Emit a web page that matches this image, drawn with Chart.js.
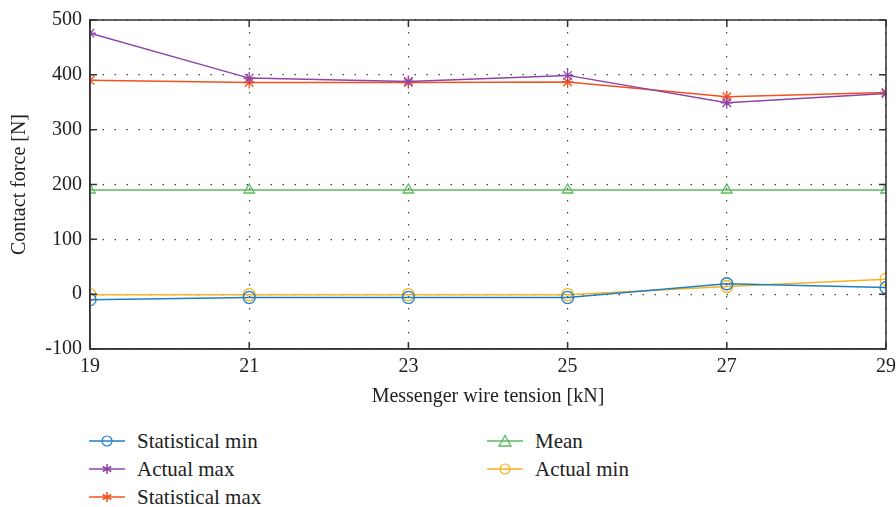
<!DOCTYPE html>
<html>
<head>
<meta charset="utf-8">
<script src="https://cdn.jsdelivr.net/npm/chart.js@4"></script>
<style>
  body { margin: 0; background: #fff; }
  #wrap { position: relative; width: 896px; height: 507px; }
  #c { position: absolute; left: 0; top: 0; }
  .leg { position: absolute; font-family: 'Liberation Serif', 'DejaVu Serif', serif; font-size: 21px; color: #222; display: flex; align-items: center; white-space: nowrap; }
  .leg svg { margin-right: 12px; }
</style>
</head>
<body>
<div id="wrap">
  <canvas id="c" width="896" height="420"></canvas>
  <div id="legend"></div>
</div>
<script>
const tensiones = [19, 21, 23, 25, 27, 29];
const minEstadistico = [-10, -6, -6, -6, 19, 12];
const maxReal = [476, 394, 388, 399, 349, 366];
const maxEstadistico = [390, 386, 386, 387, 360, 368];
const media = [190, 190, 190, 190, 190, 190];
const minReal = [-1, -1, -1, -1, 14, 27];

const series = [
    { label: 'Statistical min', data: minEstadistico, color: '#1f7fc4', marker: 'circle' },
    { label: 'Actual max', data: maxReal, color: '#8e44a8', marker: 'star' },
    { label: 'Statistical max', data: maxEstadistico, color: '#f4511e', marker: 'star' },
    { label: 'Mean', data: media, color: '#5cb85c', marker: 'triangle' },
    { label: 'Actual min', data: minReal, color: '#f9b122', marker: 'circle' }
];

const fuente = { family: "'Liberation Serif', 'DejaVu Serif', serif", size: 20 };

// marco y marcas de escala hacia dentro
const marco = {
    id: 'marco',
    afterDraw(chart) {
        const { ctx, chartArea: a, scales } = chart;
        ctx.save();
        ctx.strokeStyle = '#333';
        ctx.lineWidth = 1.5;
        ctx.strokeRect(a.left, a.top, a.right - a.left, a.bottom - a.top);
        ctx.beginPath();
        scales.x.ticks.forEach(t => {
            const x = scales.x.getPixelForValue(t.value);
            ctx.moveTo(x, a.bottom); ctx.lineTo(x, a.bottom - 7);
            ctx.moveTo(x, a.top); ctx.lineTo(x, a.top + 7);
        });
        scales.y.ticks.forEach(t => {
            const y = scales.y.getPixelForValue(t.value);
            ctx.moveTo(a.left, y); ctx.lineTo(a.left + 7, y);
            ctx.moveTo(a.right, y); ctx.lineTo(a.right - 7, y);
        });
        ctx.stroke();
        ctx.restore();
    }
};

const ctx = document.getElementById('c').getContext('2d');
const miGrafico = new Chart(ctx, {
    type: 'line',
    data: {
        datasets: series.map(s => ({
            label: s.label,
            data: tensiones.map((x, i) => ({ x: x, y: s.data[i] })),
            borderColor: s.color,
            backgroundColor: 'rgba(0,0,0,0)',
            borderWidth: 1.5,
            pointStyle: s.marker,
            pointRadius: 6,
            pointBorderColor: s.color,
            pointBorderWidth: 1.3,
            tension: 0
        }))
    },
    plugins: [marco],
    options: {
        responsive: false,
        animation: false,
        layout: { padding: { top: 20, right: 0, left: 0, bottom: 0 } },
        plugins: { legend: { display: false }, tooltip: { enabled: false } },
        scales: {
            x: {
                type: 'linear',
                min: 19, max: 29,
                afterFit(scale) { scale.height = 71; scale.paddingRight = 10; },
                ticks: { stepSize: 2, color: '#222', font: fuente, padding: 6 },
                grid: { color: '#444', lineWidth: 1.2, drawTicks: false },
                border: { display: true, color: '#333', width: 1.5, dash: [1.5, 10.5] },
                title: { display: true, text: 'Messenger wire tension [kN]', color: '#222', font: fuente, padding: { top: 4, bottom: 11 } }
            },
            y: {
                min: -100, max: 500,
                afterFit(scale) { scale.width = 90; },
                ticks: { stepSize: 100, color: '#222', font: fuente, padding: 8 },
                grid: { color: '#444', lineWidth: 1.2, drawTicks: false },
                border: { display: true, color: '#333', width: 1.5, dash: [1.5, 10.5] },
                title: { display: true, text: 'Contact force [N]', color: '#222', font: fuente, padding: { top: 8, bottom: 4 } }
            }
        }
    }
});

// leyenda en dos columnas
function icono(s) {
    let m = '';
    if (s.marker === 'circle') m = `<circle cx="18" cy="8" r="5" fill="none" stroke="${s.color}" stroke-width="1.2"/>`;
    if (s.marker === 'triangle') m = `<polygon points="18,2.5 24,13 12,13" fill="none" stroke="${s.color}" stroke-width="1.3"/>`;
    if (s.marker === 'star') m = `<path d="M18 3V13M13.7 5.5L22.3 10.5M13.7 10.5L22.3 5.5" stroke="${s.color}" stroke-width="1.5"/>`;
    return `<svg width="36" height="16"><line x1="0" y1="8" x2="36" y2="8" stroke="${s.color}" stroke-width="1.5"/>${m}</svg>`;
}
const posiciones = [[89, 441], [89, 469], [89, 497], [487, 441], [487, 469]];
document.getElementById('legend').innerHTML = series.map((s, i) =>
    `<div class="leg" style="left:${posiciones[i][0]}px;top:${posiciones[i][1] - 12}px;height:24px">${icono(s)}${s.label}</div>`
).join('');
</script>
</body>
</html>
